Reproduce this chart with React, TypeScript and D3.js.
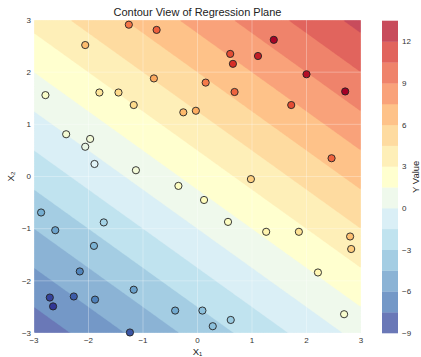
import React from 'react';
import * as d3 from 'd3';

const W = 421;
const H = 357;

// Fitted plane: y = a*x1 + b*x2 + c
const planeCoef = [1.5, 2.0, 2.0];

// Filled contour levels and tick labels
const contourLevels = [-9, -7.5, -6, -4.5, -3, -1.5, 0, 1.5, 3, 4.5, 6, 7.5, 9, 10.5, 12, 13.5];
const axisTicks = [-3, -2, -1, 0, 1, 2, 3];
const colorbarTicks = [-9, -6, -3, 0, 3, 6, 9, 12];

// Observed samples
const x1Values = [
  -1.26, -0.75, -2.06, -0.80, -2.79, -1.80, -1.45, -1.17, -0.26, -0.03,
  -2.41, -1.97, -2.06, -1.89, -1.13, 1.40, 0.60, 1.11, 0.65, 2.00,
  2.71, 0.15, 0.68, 1.72, 2.46, -0.35, -2.87, -1.72, -2.61, -1.90,
  -2.16, -1.17, -2.71, -2.27, -2.65, -1.88, -0.41, -1.24, 0.98, 0.12,
  0.56, 1.26, 1.86, 2.80, 2.82, 2.21, 2.69, 0.09, 0.61, 0.28,
];
const x2Values = [
  2.91, 2.81, 2.52, 1.88, 1.56, 1.61, 1.61, 1.37, 1.23, 1.26,
  0.81, 0.72, 0.57, 0.24, 0.12, 2.62, 2.35, 2.31, 2.16, 1.96,
  1.63, 1.80, 1.62, 1.37, 0.35, -0.18, -0.69, -0.88, -1.03, -1.33,
  -1.82, -2.17, -2.32, -2.30, -2.49, -2.36, -2.57, -2.99, -0.05, -0.45,
  -0.87, -1.06, -1.06, -1.15, -1.39, -1.84, -2.64, -2.57, -2.75, -2.87,
];
const yValues = [
  5.9, 6.5, 4.0, 4.6, 0.9, 2.5, 3.0, 3.0, 4.1, 4.5,
  0.6, 0.5, 0.1, -0.4, 0.5, 9.3, 7.0, 8.4, 7.8, 8.9,
  9.4, 5.8, 6.4, 7.0, 6.4, 1.1, -3.7, -2.3, -4.0, -3.5,
  -4.9, -4.1, -6.7, -6.0, -7.0, -5.0, -3.8, -6.2, 3.4, 1.3,
  1.1, 1.8, 2.7, 3.9, 3.5, 1.6, 0.8, -3.0, -2.6, -3.0,
];

// matplotlib-style RdYlBu_r: piecewise linear through the 11 scheme colours
const rdylbuR = d3
  .scaleLinear<string>()
  .domain(d3.range(11).map((i) => i / 10))
  .range([...d3.schemeRdYlBu[11]].reverse())
  .interpolate(d3.interpolateRgb)
  .clamp(true);

const CONTOUR_ALPHA = 0.75;
const withAlpha = (c: string) => d3.interpolateRgb('#ffffff', c)(CONTOUR_ALPHA);

const plot = { left: 34, right: 361, top: 20, bottom: 333 };
const cbar = { left: 382, right: 398, top: 20.7, bottom: 333 };

export default function App() {
  const xScale = d3.scaleLinear().domain([-3, 3]).range([plot.left, plot.right]);
  const yScale = d3.scaleLinear().domain([-3, 3]).range([plot.bottom, plot.top]);
  const lvMin = contourLevels[0];
  const lvMax = contourLevels[contourLevels.length - 1];
  const bandColor = (i: number) => {
    const mid = (contourLevels[i] + contourLevels[i + 1]) / 2;
    return withAlpha(rdylbuR((mid - lvMin) / (lvMax - lvMin)));
  };

  // Evaluate the plane on a grid and trace filled bands
  const N = 200;
  const [a, b, c] = planeCoef;
  const grid = new Array(N * N);
  for (let j = 0; j < N; j++) {
    for (let i = 0; i < N; i++) {
      const gx = -3 + ((i + 0.5) * 6) / N;
      const gy = 3 - ((j + 0.5) * 6) / N;
      grid[j * N + i] = a * gx + b * gy + c;
    }
  }
  const bands = d3.contours().size([N, N]).thresholds(contourLevels.slice(0, -1))(grid);
  const path = d3.geoPath(
    d3.geoTransform({
      point(px: number, py: number) {
        (this as any).stream.point(xScale(-3 + (px * 6) / N), yScale(3 - (py * 6) / N));
      },
    })
  );

  const yExtent = d3.extent(yValues) as [number, number];
  const pointColor = (v: number) => rdylbuR((v - yExtent[0]) / (yExtent[1] - yExtent[0]));

  const cbScale = d3.scaleLinear().domain([lvMin, lvMax]).range([cbar.bottom, cbar.top]);
  const fmt = (v: number) => (v < 0 ? '\u2212' + Math.abs(v) : String(v));
  const font = 'Liberation Sans, Arial, sans-serif';
  const tickColor = '#333';

  return (
    <svg
      width={W}
      height={H}
      style={{ position: 'absolute', left: 0, top: 0, background: '#fff' }}
      fontFamily={font}
    >
      <defs>
        <clipPath id="plotClip">
          <rect x={plot.left} y={plot.top} width={plot.right - plot.left} height={plot.bottom - plot.top} />
        </clipPath>
      </defs>

      <g clipPath="url(#plotClip)">
        {bands.map((band, i) => (
          <path key={i} d={path(band as any) || ''} fill={bandColor(i)} stroke={bandColor(i)} strokeWidth={0.3} />
        ))}
        {axisTicks.map((t) => (
          <g key={'g' + t}>
            <line x1={xScale(t)} x2={xScale(t)} y1={plot.top} y2={plot.bottom} stroke="#fff" strokeOpacity={0.3} />
            <line x1={plot.left} x2={plot.right} y1={yScale(t)} y2={yScale(t)} stroke="#fff" strokeOpacity={0.3} />
          </g>
        ))}
      </g>

      {x1Values.map((x, i) => (
        <circle
          key={'p' + i}
          cx={xScale(x)}
          cy={yScale(x2Values[i])}
          r={3.6}
          fill={pointColor(yValues[i])}
          stroke="#222"
          strokeWidth={0.9}
        />
      ))}

      {/* axis tick labels */}
      {axisTicks.map((t) => (
        <text key={'xt' + t} x={xScale(t)} y={343} fontSize={8} fill={tickColor} textAnchor="middle">
          {fmt(t)}
        </text>
      ))}
      {axisTicks.map((t) => (
        <text key={'yt' + t} x={31} y={yScale(t)} dy="0.35em" fontSize={8} fill={tickColor} textAnchor="end">
          {fmt(t)}
        </text>
      ))}

      <text x={(plot.left + plot.right) / 2} y={16} fontSize={11} fill="#222" textAnchor="middle">
        Contour View of Regression Plane
      </text>
      <text x={(plot.left + plot.right) / 2} y={355} fontSize={9.5} fill="#222" textAnchor="middle">
        X₁
      </text>
      <text
        transform={`translate(14,${(plot.top + plot.bottom) / 2}) rotate(-90)`}
        fontSize={9.5}
        fill="#222"
        textAnchor="middle"
      >
        X₂
      </text>

      {/* colour bar */}
      {contourLevels.slice(0, -1).map((lv, i) => (
        <rect
          key={'cb' + i}
          x={cbar.left}
          width={cbar.right - cbar.left}
          y={cbScale(contourLevels[i + 1])}
          height={cbScale(lv) - cbScale(contourLevels[i + 1]) + 0.3}
          fill={bandColor(i)}
        />
      ))}
      {colorbarTicks.map((t) => (
        <text key={'ct' + t} x={402} y={cbScale(t)} dy="0.35em" fontSize={8} fill={tickColor}>
          {fmt(t)}
        </text>
      ))}
      <text
        transform={`translate(416,${(cbar.top + cbar.bottom) / 2}) rotate(-90)`}
        fontSize={9.5}
        fill="#222"
        textAnchor="middle"
        dy="0.35em"
      >
        Y Value
      </text>
    </svg>
  );
}
